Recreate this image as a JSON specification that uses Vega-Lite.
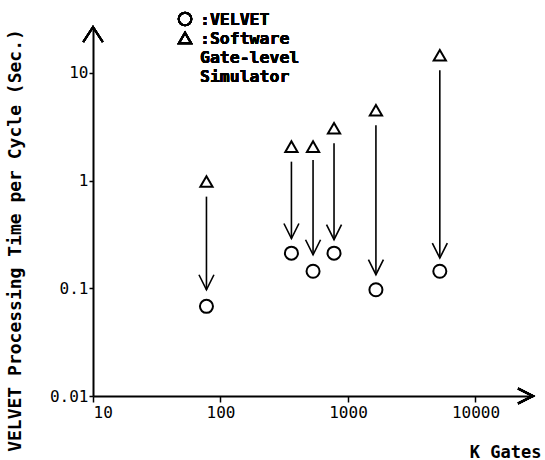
{
  "$schema": "https://vega.github.io/schema/vega-lite/v6.json",
  "width": 440,
  "height": 369,
  "autosize": "none",
  "padding": {"left": 93, "top": 27, "right": 12, "bottom": 64},
  "background": "white",
  "config": {
    "view": {"stroke": null},
    "font": "DejaVu Sans Mono",
    "axis": {
      "grid": false, "domainColor": "black", "domainWidth": 2,
      "tickColor": "black", "tickWidth": 1.5,
      "labelColor": "black", "labelFontSize": 16,
      "titleColor": "black", "titleFontWeight": "bold", "titleAnchor": null, "titleBaseline": "middle"
    },
    "axisX": {"labelFlush": true, "tickSize": 6, "labelPadding": 2, "titleFontSize": 17, "titleAlign": "right", "titleX": 448, "titleY": 56},
    "axisY": {"labelFlush": false, "tickSize": 4, "labelPadding": 1, "titleFontSize": 18, "titleAlign": "center", "titleX": -78, "titleY": 213, "titleAngle": -90}
  },
  "data": {
    "values": [
      {"kgates": 77.6, "velvet": 0.068, "software": 0.98, "arrow_top": 0.71, "arrow_bottom": 0.097},
      {"kgates": 360, "velvet": 0.212, "software": 2.07, "arrow_top": 1.5, "arrow_bottom": 0.29},
      {"kgates": 532, "velvet": 0.144, "software": 2.07, "arrow_top": 1.55, "arrow_bottom": 0.205},
      {"kgates": 777, "velvet": 0.212, "software": 3.06, "arrow_top": 2.22, "arrow_bottom": 0.283},
      {"kgates": 1656, "velvet": 0.097, "software": 4.5, "arrow_top": 3.27, "arrow_bottom": 0.134},
      {"kgates": 5250, "velvet": 0.144, "software": 14.6, "arrow_top": 10.6, "arrow_bottom": 0.191}
    ]
  },
  "layer": [
    {
      "mark": {"type": "rule", "color": "black", "strokeWidth": 1.6},
      "encoding": {
        "x": {"field": "kgates", "type": "quantitative", "scale": {"type": "log", "domain": [10, 28250], "nice": false},
              "axis": {"values": [10, 100, 1000, 10000], "labelExpr": "format(datum.value, 'd')", "title": "K Gates"}},
        "y": {"field": "arrow_top", "type": "quantitative", "scale": {"type": "log", "domain": [0.01, 26.7], "nice": false},
              "axis": {"values": [0.01, 0.1, 1, 10], "labelExpr": "toString(datum.value)", "title": "VELVET Processing Time per Cycle (Sec.)"}},
        "y2": {"field": "arrow_bottom"}
      }
    },
    {
      "mark": {"type": "point", "shape": "M-0.5,-1L0,0L0.5,-1", "size": 900, "filled": false, "color": "black", "strokeWidth": 1.6, "opacity": 1},
      "encoding": {
        "x": {"field": "kgates", "type": "quantitative", "scale": {"type": "log", "domain": [10, 28250], "nice": false},
              "axis": {"values": [10, 100, 1000, 10000], "labelExpr": "format(datum.value, 'd')", "title": "K Gates"}},
        "y": {"field": "arrow_bottom", "type": "quantitative", "scale": {"type": "log", "domain": [0.01, 26.7], "nice": false},
              "axis": {"values": [0.01, 0.1, 1, 10], "labelExpr": "toString(datum.value)", "title": "VELVET Processing Time per Cycle (Sec.)"}}
      }
    },
    {
      "mark": {"type": "point", "shape": "circle", "size": 170, "filled": false, "color": "black", "strokeWidth": 2, "opacity": 1},
      "encoding": {
        "x": {"field": "kgates", "type": "quantitative", "scale": {"type": "log", "domain": [10, 28250], "nice": false},
              "axis": {"values": [10, 100, 1000, 10000], "labelExpr": "format(datum.value, 'd')", "title": "K Gates"}},
        "y": {"field": "velvet", "type": "quantitative", "scale": {"type": "log", "domain": [0.01, 26.7], "nice": false},
              "axis": {"values": [0.01, 0.1, 1, 10], "labelExpr": "toString(datum.value)", "title": "VELVET Processing Time per Cycle (Sec.)"}}
      }
    },
    {
      "mark": {"type": "point", "shape": "triangle-up", "size": 150, "filled": false, "color": "black", "strokeWidth": 2, "opacity": 1},
      "encoding": {
        "x": {"field": "kgates", "type": "quantitative", "scale": {"type": "log", "domain": [10, 28250], "nice": false},
              "axis": {"values": [10, 100, 1000, 10000], "labelExpr": "format(datum.value, 'd')", "title": "K Gates"}},
        "y": {"field": "software", "type": "quantitative", "scale": {"type": "log", "domain": [0.01, 26.7], "nice": false},
              "axis": {"values": [0.01, 0.1, 1, 10], "labelExpr": "toString(datum.value)", "title": "VELVET Processing Time per Cycle (Sec.)"}}
      }
    },
    {
      "mark": {"type": "point", "shape": "M-0.65,1L0,0L0.65,1", "size": 900, "filled": false, "color": "black", "strokeWidth": 2, "opacity": 1},
      "encoding": {
        "x": {"datum": 10, "type": "quantitative", "scale": {"type": "log", "domain": [10, 28250], "nice": false},
              "axis": {"values": [10, 100, 1000, 10000], "labelExpr": "format(datum.value, 'd')", "title": "K Gates"}},
        "y": {"datum": 26.7, "type": "quantitative", "scale": {"type": "log", "domain": [0.01, 26.7], "nice": false},
              "axis": {"values": [0.01, 0.1, 1, 10], "labelExpr": "toString(datum.value)", "title": "VELVET Processing Time per Cycle (Sec.)"}}
      }
    },
    {
      "mark": {"type": "point", "shape": "M-1,-0.5L0,0L-1,0.5", "size": 900, "filled": false, "color": "black", "strokeWidth": 2, "opacity": 1},
      "encoding": {
        "x": {"datum": 28250, "type": "quantitative", "scale": {"type": "log", "domain": [10, 28250], "nice": false},
              "axis": {"values": [10, 100, 1000, 10000], "labelExpr": "format(datum.value, 'd')", "title": "K Gates"}},
        "y": {"datum": 0.01, "type": "quantitative", "scale": {"type": "log", "domain": [0.01, 26.7], "nice": false},
              "axis": {"values": [0.01, 0.1, 1, 10], "labelExpr": "toString(datum.value)", "title": "VELVET Processing Time per Cycle (Sec.)"}}
      }
    },
    {
      "mark": {"type": "point", "shape": "circle", "size": 160, "filled": false, "color": "black", "strokeWidth": 2, "opacity": 1},
      "encoding": {
        "x": {"datum": 52.7, "type": "quantitative", "scale": {"type": "log", "domain": [10, 28250], "nice": false},
              "axis": {"values": [10, 100, 1000, 10000], "labelExpr": "format(datum.value, 'd')", "title": "K Gates"}},
        "y": {"datum": 31.7, "type": "quantitative", "scale": {"type": "log", "domain": [0.01, 26.7], "nice": false},
              "axis": {"values": [0.01, 0.1, 1, 10], "labelExpr": "toString(datum.value)", "title": "VELVET Processing Time per Cycle (Sec.)"}}
      }
    },
    {
      "mark": {"type": "point", "shape": "triangle-up", "size": 150, "filled": false, "color": "black", "strokeWidth": 2, "opacity": 1},
      "encoding": {
        "x": {"datum": 52.7, "type": "quantitative", "scale": {"type": "log", "domain": [10, 28250], "nice": false},
              "axis": {"values": [10, 100, 1000, 10000], "labelExpr": "format(datum.value, 'd')", "title": "K Gates"}},
        "y": {"datum": 21.1, "type": "quantitative", "scale": {"type": "log", "domain": [0.01, 26.7], "nice": false},
              "axis": {"values": [0.01, 0.1, 1, 10], "labelExpr": "toString(datum.value)", "title": "VELVET Processing Time per Cycle (Sec.)"}}
      }
    },
    {
      "mark": {"type": "text", "align": "left", "baseline": "alphabetic", "fontSize": 16.5, "fontWeight": "bold", "color": "black", "lineHeight": 19},
      "encoding": {
        "x": {"datum": 69, "type": "quantitative", "scale": {"type": "log", "domain": [10, 28250], "nice": false},
              "axis": {"values": [10, 100, 1000, 10000], "labelExpr": "format(datum.value, 'd')", "title": "K Gates"}},
        "y": {"datum": 28.1, "type": "quantitative", "scale": {"type": "log", "domain": [0.01, 26.7], "nice": false},
              "axis": {"values": [0.01, 0.1, 1, 10], "labelExpr": "toString(datum.value)", "title": "VELVET Processing Time per Cycle (Sec.)"}},
        "text": {"value": [":VELVET", ":Software", "  Gate-level", "  Simulator"]}
      }
    }
  ]
}
